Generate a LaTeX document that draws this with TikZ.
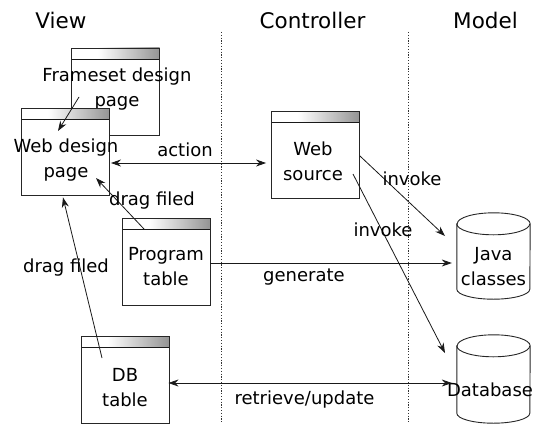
\documentclass[tikz,border=0pt]{standalone}
\usepackage{fontspec}
\setmainfont{DejaVu Sans}
\usetikzlibrary{arrows.meta,calc}
\pgfdeclarehorizontalshading{titlebar}{100bp}{color(0bp)=(white); color(40bp)=(white); color(75bp)=(black!42); color(100bp)=(black!90)}
\tikzset{
  ln/.style={draw=black!85, line width=0.9pt},
  winbox/.style={draw=black!85, line width=0.9pt, fill=white, minimum width=88pt, minimum height=87pt, inner sep=0pt,
    path picture={
      \shade[shading=titlebar] (path picture bounding box.north west) rectangle ([yshift=-11pt]path picture bounding box.north east);
      \draw[black!90, line width=1pt] ([yshift=-11pt]path picture bounding box.north west) -- ([yshift=-11pt]path picture bounding box.north east);
    }},
  cylnode/.style={minimum width=73pt, inner sep=0pt, draw=none},
  txt/.style={font=\fontsize{18}{25}\selectfont, align=center, inner sep=0pt},
  ttl/.style={font=\fontsize{21.5}{25}\selectfont, inner sep=0pt},
  conn/.style={draw=black!90, line width=0.8pt, -{Stealth[length=10pt,width=7pt]}},
  conn2/.style={draw=black!90, line width=0.8pt, {Stealth[length=10pt,width=7pt]}-{Stealth[length=10pt,width=7pt]}},
  sep/.style={draw=black!80, line width=0.8pt, dash pattern=on 1.2pt off 1.6pt}
}
\begin{document}
\begin{tikzpicture}[x=1pt,y=-1pt]
\useasboundingbox (0,0) rectangle (537,428);
\fill[white] (0,0) rectangle (537,428);

% titles
\node[ttl] (tview) at (61,20.5) {View};
\node[ttl] (tctrl) at (312.5,20.5) {Controller};
\node[ttl] (tmodel) at (485.5,20.5) {Model};

% separators
\coordinate (s1a) at (221,32); \coordinate (s1b) at (221,422);
\coordinate (s2a) at (408,32); \coordinate (s2b) at (408,422);
\draw[sep] (s1a) -- (s1b);
\draw[sep] (s2a) -- (s2b);

% windows
\node[winbox] (frame) at (115.5,91.5) {};
\node[txt] (frametxt) at (117,89) {Frameset design\\page};
\node[winbox] (web) at (65.5,151.5) {};
\node[txt] (webtxt) at (66,160) {Web design\\page};
\node[winbox] (src) at (315.5,155) {};
\node[txt] (srctxt) at (313,161.5) {Web\\source};
\node[winbox] (prog) at (166,261.5) {};
\node[txt] (progtxt) at (166,266.5) {Program\\table};
\node[winbox] (db) at (125,380) {};
\node[txt] (dbtxt) at (125,388) {DB\\table};

% cylinders
\node[cylnode, minimum height=86pt] (java) at (493.5,256) {};
\node[cylnode, minimum height=88pt] (dbc) at (493.5,379) {};
\foreach \n in {java,dbc}{
  \draw[ln, fill=white] ([yshift=-11pt]\n.north west) -- ([yshift=10pt]\n.south west)
    arc[start angle=180, end angle=360, x radius=36.5pt, y radius=10pt]
    -- ([yshift=-11pt]\n.north east)
    arc[start angle=0, end angle=180, x radius=36.5pt, y radius=11pt] -- cycle;
  \draw[ln] ([yshift=-11pt]\n.north west) arc[start angle=180, end angle=360, x radius=36.5pt, y radius=11pt];
}
\node[txt] (javatxt) at (493.5,266.5) {Java\\classes};
\node[txt] (dbctxt) at (490,390) {Database};

% connectors
\draw[conn] ($(frame.center)+(-36.5,5.5)$) -- ($(web.center)+(-7.5,-20.5)$);
\draw[conn2] ($(web.east)+(1,11.5)$) -- ($(src.west)+(-5,8)$);
\node[txt] (lact) at (185,150) {action};
\draw[conn] ($(prog.center)+(-22,-32.5)$) -- ($(web.center)+(30.5,26.5)$);
\node[txt] (ldrag1) at (152,201) {drag filed};
\draw[conn] ($(db.center)+(-23,-22)$) -- ($(web.south)+(-2.5,2)$);
\node[txt] (ldrag2) at (66,268) {drag filed};
\draw[conn] ($(prog.east)+(0,1.5)$) -- ($(java.west)+(-5,7)$);
\node[txt] (lgen) at (304,277) {generate};
\draw[conn] ($(src.east)+(0,1)$) -- ($(java.center)+(-48.5,-20)$);
\node[txt] (linv1) at (412,179) {invoke};
\draw[conn] ($(src.center)+(37.5,19)$) -- ($(dbc.center)+(-48.5,-26)$);
\node[txt] (linv2) at (383,230) {invoke};
\draw[conn2] ($(db.east)+(-1,3)$) -- ($(dbc.west)+(-5,4)$);
\node[txt] (lru) at (304.5,400) {retrieve/update};
\end{tikzpicture}
\end{document}
